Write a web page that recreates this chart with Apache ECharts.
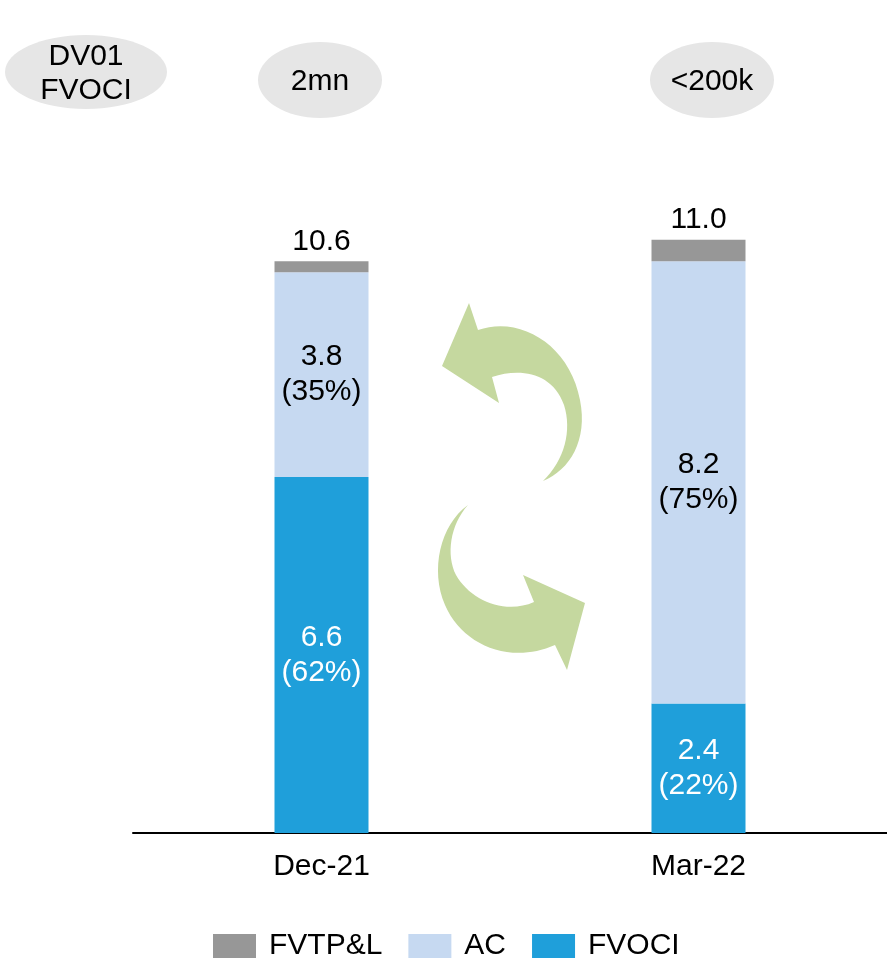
<!DOCTYPE html>
<html>
<head>
<meta charset="utf-8">
<style>
  html, body { margin: 0; padding: 0; background: #ffffff; }
  #chart { width: 887px; height: 966px; }
</style>
<script src="https://cdn.jsdelivr.net/npm/echarts@6/dist/echarts.min.js"></script>
</head>
<body>
<div id="chart"></div>
<script>
// Portfolio split by accounting category (EUR bn)
const categories = ['Dec-21', 'Mar-22'];
const fvoci = [6.6, 2.4];
const ac = [3.8, 8.2];
const fvtpl = [0.2, 0.4];
const totals = ['10.6', '11.0'];
const fvociShare = ['62%', '22%'];
const acShare = ['35%', '75%'];
const dv01Labels = ['2mn', '<200k'];

const FONT = '"Liberation Sans", Arial, sans-serif';
const FS = 30;

// Curved arrow outlines, registered as reusable shapes
echarts.graphic.registerShape('arrowBack', echarts.graphic.extendPath(
  'M442,366 L469,303 L478,330 C520,315 570,345 580,400 C588,440 570,470 543,481 C565,460 572,430 564,405 C552,372 520,368 492,377 L499,403 Z', {}));
echarts.graphic.registerShape('arrowForward', echarts.graphic.extendPath(
  'M468,505 C440,525 430,570 445,605 C462,645 510,665 555,645 L567,670 L585,603 L523,575 L534,602 C505,615 470,600 456,575 C446,555 450,525 468,505 Z', {}));

const chart = echarts.init(document.getElementById('chart'));

function valueLabel(values, shares, color) {
  return {
    show: true,
    position: 'inside',
    color: color,
    fontFamily: FONT,
    fontSize: FS,
    lineHeight: 35,
    formatter: p => values[p.dataIndex].toFixed(1) + '\n(' + shares[p.dataIndex] + ')'
  };
}

const arrowColor = '#c5d89f';

chart.setOption({
  animation: false,
  backgroundColor: '#ffffff',
  textStyle: { fontFamily: FONT },
  grid: { left: 133, width: 756, top: 78, bottom: 133 },
  legend: {
    left: 213,
    top: 931,
    padding: 0,
    itemWidth: 43,
    itemHeight: 24,
    itemGap: 26,
    icon: 'rect',
    data: ['FVTP&L', 'AC', 'FVOCI'],
    textStyle: { fontFamily: FONT, fontSize: FS, color: '#000', padding: [0, 0, 0, 8] }
  },
  xAxis: {
    type: 'category',
    data: categories,
    axisLine: { lineStyle: { color: '#000', width: 2 } },
    axisTick: { show: false },
    axisLabel: { color: '#000', fontFamily: FONT, fontSize: FS, margin: 19 }
  },
  yAxis: {
    type: 'value',
    min: 0,
    max: 14,
    show: false,
    splitLine: { show: false }
  },
  series: [
    {
      name: 'FVOCI', type: 'bar', stack: 'total', barWidth: 94,
      itemStyle: { color: '#1f9fda' },
      label: valueLabel(fvoci, fvociShare, '#ffffff'),
      data: fvoci
    },
    {
      name: 'AC', type: 'bar', stack: 'total', barWidth: 94,
      itemStyle: { color: '#c6d9f1' },
      label: valueLabel(ac, acShare, '#000000'),
      data: ac
    },
    {
      name: 'FVTP&L', type: 'bar', stack: 'total', barWidth: 94,
      itemStyle: { color: '#979797' },
      label: {
        show: true, position: 'top', distance: 5,
        color: '#000', fontFamily: FONT, fontSize: FS,
        formatter: p => totals[p.dataIndex]
      },
      data: fvtpl
    }
  ],
  graphic: [
    // DV01 bubbles above the chart
    { type: 'ellipse', shape: { cx: 86, cy: 72, rx: 81, ry: 37 }, style: { fill: '#e6e6e6' }, z: 1 },
    { type: 'text', x: 86, y: 74, z: 2,
      style: { text: 'DV01\nFVOCI', fill: '#000', font: FS + 'px ' + FONT, lineHeight: 34, align: 'center', verticalAlign: 'middle' } },
    { type: 'ellipse', shape: { cx: 320, cy: 80, rx: 62, ry: 38 }, style: { fill: '#e6e6e6' }, z: 1 },
    { type: 'text', x: 320, y: 82, z: 2,
      style: { text: dv01Labels[0], fill: '#000', font: FS + 'px ' + FONT, align: 'center', verticalAlign: 'middle' } },
    { type: 'ellipse', shape: { cx: 712, cy: 80, rx: 62, ry: 38 }, style: { fill: '#e6e6e6' }, z: 1 },
    { type: 'text', x: 712, y: 82, z: 2,
      style: { text: dv01Labels[1], fill: '#000', font: FS + 'px ' + FONT, align: 'center', verticalAlign: 'middle' } },
    // curved arrows showing the reclassification between the two dates
    { type: 'arrowBack', z: 1, style: { fill: arrowColor } },
    { type: 'arrowForward', z: 1, style: { fill: arrowColor } }
  ]
});
</script>
</body>
</html>
